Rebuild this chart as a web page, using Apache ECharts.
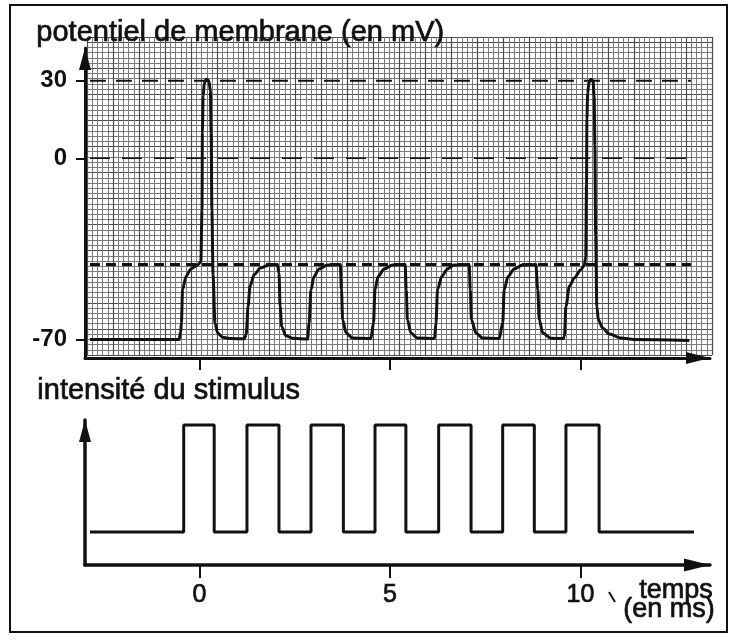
<!DOCTYPE html>
<html>
<head>
<meta charset="utf-8">
<script src="https://cdn.jsdelivr.net/npm/echarts@6/dist/echarts.min.js"></script>
<style>
  html, body { margin: 0; padding: 0; background: #fff; }
  #charts { width: 740px; height: 644px; }
</style>
</head>
<body>
<div id="charts"></div>
<script>
// valeurs
var timeTicks = [0, 5, 10];
var potentialTicks = [30, 0, -70];
var levelLines = [30, 0, -41]; // pic, zero, seuil
var levelStart = -2.87, levelEnd = 12.9;

// potentiel de membrane [t (ms), mV]
var potential = [
    [-2.87, -70], [-0.53, -70], [-0.49, -67], [-0.47, -63.6], [-0.44, -50.7], [-0.35, -45.6], [-0.22, -42.7], [-0.05, -41.2],
    [0.04, -40], [0.07, -20], [0.08, 10], [0.10, 24], [0.13, 29], [0.18, 30.5], [0.25, 30], [0.29, 26], [0.31, 10], [0.33, -20], [0.36, -45],
    [0.41, -63.6], [0.48, -67.4], [0.61, -69.1], [0.83, -69.6], [1.18, -69.7],
    [1.23, -68], [1.28, -57.1], [1.33, -49.4], [1.44, -44.9], [1.61, -42.3], [1.83, -41.2], [2.05, -41],
    [2.09, -44.3], [2.12, -57.1], [2.16, -64.9], [2.27, -68.5], [2.45, -69.5], [2.84, -69.8],
    [2.88, -63.6], [2.93, -50.7], [3.01, -45.6], [3.14, -42.7], [3.36, -41.2], [3.70, -41],
    [3.73, -50.7], [3.76, -62.3], [3.85, -67.4], [4.02, -69.4], [4.50, -69.6],
    [4.57, -63.6], [4.61, -50.7], [4.69, -45.6], [4.85, -42.7], [5.07, -41.2], [5.40, -41],
    [5.43, -50.7], [5.46, -62.3], [5.55, -67.4], [5.72, -69.4], [6.17, -69.6],
    [6.21, -63.6], [6.25, -50.7], [6.36, -45.6], [6.51, -42.7], [6.68, -41.2], [7.08, -41],
    [7.11, -50.7], [7.14, -62.3], [7.26, -67.4], [7.43, -69.4], [7.87, -69.6],
    [7.96, -63.6], [8.00, -50.7], [8.10, -45.6], [8.26, -42.7], [8.48, -41.2], [8.83, -41],
    [8.88, -50.7], [8.92, -62.3], [9.01, -67.4], [9.23, -69.5], [9.55, -69.6],
    [9.58, -68.7], [9.62, -57.1], [9.71, -49.4], [9.84, -46.2], [10.01, -43], [10.10, -41.4],
    [10.14, -38], [10.16, -10], [10.17, 15], [10.19, 25], [10.22, 29], [10.27, 30.5], [10.33, 30], [10.36, 24], [10.38, 5], [10.40, -30],
    [10.43, -57.1], [10.47, -62.3], [10.58, -65.5], [10.76, -67.8], [11.06, -69.4], [11.41, -70], [12.86, -70.3]
];

// stimulus : debut et fin de chaque creneau (ms)
var stimOn = [-0.41, 1.25, 2.93, 4.61, 6.28, 7.96, 9.62];
var stimOff = [0.39, 2.09, 3.78, 5.42, 7.13, 8.79, 10.49];
var stimLow = 1, stimHigh = 4.25;
var stimStart = -2.87, stimEnd = 12.98;

var stimulus = [[stimStart, stimLow]];
for (var i = 0; i < stimOn.length; i++) {
    stimulus.push([stimOn[i], stimLow], [stimOn[i], stimHigh], [stimOff[i], stimHigh], [stimOff[i], stimLow]);
}
stimulus.push([stimEnd, stimLow]);

var FONT = 'Liberation Sans, Arial, sans-serif';
var INK = '#111';

function dashed(level, type, width) {
    return {
        type: 'line',
        xAxisIndex: 0, yAxisIndex: 0,
        data: [[levelStart, level], [levelEnd, level]],
        showSymbol: false,
        silent: true,
        lineStyle: { color: INK, width: width, type: type },
        z: 3
    };
}

function heavyText(txt, size, pos) {
    var el = { type: 'text', z: 10, style: { text: txt, fill: INK, stroke: INK, lineWidth: 0.7, font: size + 'px ' + FONT } };
    for (var k in pos) el[k] = pos[k];
    return el;
}

var myChart = echarts.init(document.getElementById('charts'));
var option = {
    animation: false,
    backgroundColor: '#fff',
    grid: [
        { left: 85, top: 48, width: 625, height: 310 },
        { left: 85, top: 420, width: 625, height: 145 },
        { left: 87, top: 37, width: 625, height: 318 }   // papier millimetre
    ],
    xAxis: [{
        type: 'value', gridIndex: 0, min: -3, max: 13.4, z: 5,
        axisLine: { onZero: false, lineStyle: { color: INK, width: 3 }, symbol: ['none', 'triangle'], symbolSize: [12, 24], symbolOffset: [0, -12] },
        axisTick: { customValues: timeTicks, length: 12, lineStyle: { color: INK, width: 2 } },
        axisLabel: { show: false },
        splitLine: { show: false }
    }, {
        type: 'value', gridIndex: 1, min: -3, max: 13.4, z: 5,
        axisLine: { onZero: false, lineStyle: { color: INK, width: 3.5 }, symbol: ['none', 'triangle'], symbolSize: [13, 26], symbolOffset: [0, -13] },
        axisTick: { customValues: timeTicks, length: 13, lineStyle: { color: INK, width: 2 } },
        axisLabel: { customValues: timeTicks, color: INK, fontFamily: FONT, fontSize: 25, margin: 18, textBorderColor: INK, textBorderWidth: 0.7 },
        splitLine: { show: false }
    }, {
        type: 'value', gridIndex: 2, min: 0, max: 120, interval: 5, z: 0,
        axisLine: { show: false }, axisTick: { show: false }, axisLabel: { show: false },
        minorTick: { show: false, splitNumber: 5 },
        splitLine: { show: true, lineStyle: { color: '#4a4a4a', width: 1.2 } },
        minorSplitLine: { show: true, lineStyle: { color: '#7a7a7a', width: 1 } }
    }],
    yAxis: [{
        type: 'value', gridIndex: 0, min: -77.1, max: 42.6, z: 5,
        axisLine: { onZero: false, show: true, lineStyle: { color: INK, width: 3 }, symbol: ['none', 'triangle'], symbolSize: [12, 22], symbolOffset: [0, -11] },
        axisTick: { show: true, customValues: potentialTicks, length: 9, lineStyle: { color: INK, width: 2 } },
        axisLabel: { customValues: potentialTicks, color: INK, fontFamily: FONT, fontSize: 24, fontWeight: 'bold', margin: 18 },
        splitLine: { show: false }
    }, {
        type: 'value', gridIndex: 1, min: 0, max: 4.4, z: 5,
        axisLine: { onZero: false, show: true, lineStyle: { color: INK, width: 3.5 }, symbol: ['none', 'triangle'], symbolSize: [12, 22], symbolOffset: [0, -11] },
        axisTick: { show: false },
        axisLabel: { show: false },
        splitLine: { show: false }
    }, {
        type: 'value', gridIndex: 2, min: 0, max: 61, interval: 5, z: 0,
        axisLine: { show: false }, axisTick: { show: false }, axisLabel: { show: false },
        minorTick: { show: false, splitNumber: 5 },
        splitLine: { show: true, lineStyle: { color: '#4a4a4a', width: 1.2 } },
        minorSplitLine: { show: true, lineStyle: { color: '#7a7a7a', width: 1 } }
    }],
    graphic: [
        { type: 'rect', shape: { x: 10, y: 5, width: 717, height: 627 }, style: { fill: 'none', stroke: INK, lineWidth: 2 }, z: 1 },
        heavyText('potentiel de membrane (en mV)', 29, { left: 36, top: 18 }),
        heavyText('intensité du stimulus', 29, { left: 37, top: 376 }),
        heavyText('temps', 27, { right: 27, top: 577 }),
        heavyText('(en ms)', 27, { right: 25, top: 596 }),
        { type: 'line', shape: { x1: 609, y1: 592, x2: 615, y2: 602 }, style: { stroke: INK, lineWidth: 2 }, z: 10 }
    ],
    series: [
        dashed(levelLines[0], [16, 10], 2),
        dashed(levelLines[1], [20, 12], 1.5),
        dashed(levelLines[2], [10, 6], 3),
        {
            name: 'potentiel',
            type: 'line',
            xAxisIndex: 0, yAxisIndex: 0,
            data: potential,
            showSymbol: false,
            smooth: 0.3,
            smoothMonotone: 'x',
            lineStyle: { color: INK, width: 3 },
            z: 4
        },
        {
            name: 'stimulus',
            type: 'line',
            xAxisIndex: 1, yAxisIndex: 1,
            data: stimulus,
            showSymbol: false,
            lineStyle: { color: INK, width: 3 },
            z: 4
        }
    ]
};
myChart.setOption(option);
</script>
</body>
</html>
